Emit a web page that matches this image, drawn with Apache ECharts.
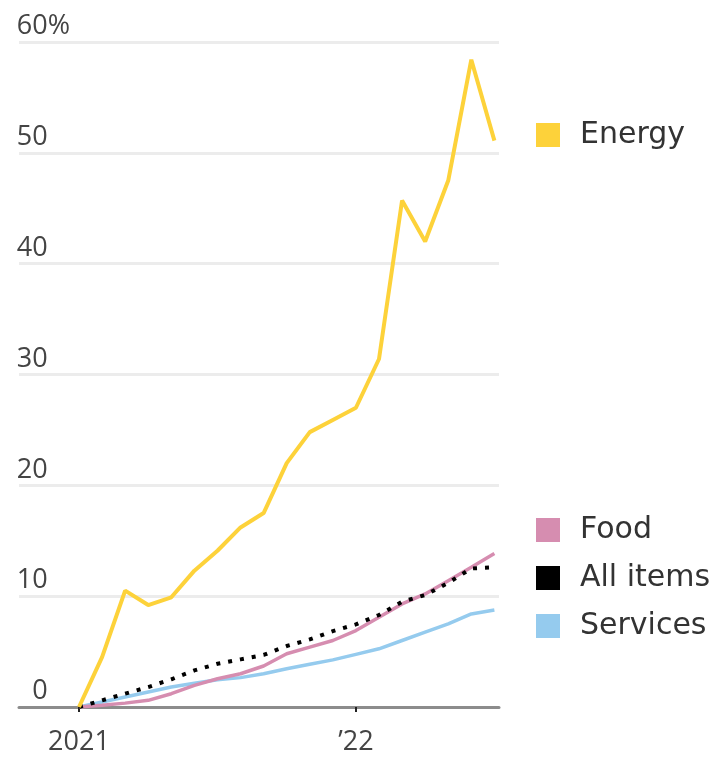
<!DOCTYPE html>
<html>
<head>
<meta charset="utf-8">
<script src="https://cdn.jsdelivr.net/npm/echarts@6/dist/echarts.min.js"></script>
<style>
  html, body { margin: 0; padding: 0; background: #fff; }
  #chart { width: 726px; height: 758px; }
</style>
</head>
<body>
<div id="chart"></div>
<script>
// Monthly cumulative price change since January 2021, percent
const months = ['2021-01','2021-02','2021-03','2021-04','2021-05','2021-06','2021-07','2021-08','2021-09','2021-10','2021-11','2021-12',
                '2022-01','2022-02','2022-03','2022-04','2022-05','2022-06','2022-07'];
const energy   = [0, 4.5, 10.5, 9.2, 9.9, 12.3, 14.1, 16.2, 17.5, 22.0, 24.8, 25.9, 27.0, 31.4, 45.7, 42.0, 47.5, 58.4, 51.1];
const food     = [0, 0.15, 0.35, 0.6, 1.2, 1.95, 2.55, 3.0, 3.7, 4.8, 5.4, 6.0, 6.9, 8.1, 9.3, 10.2, 11.4, 12.6, 13.85];
const allItems = [0, 0.6, 1.2, 1.8, 2.5, 3.3, 3.9, 4.3, 4.7, 5.5, 6.1, 6.85, 7.45, 8.3, 9.5, 10.1, 11.2, 12.5, 12.6];
const services = [0, 0.45, 0.9, 1.35, 1.8, 2.15, 2.45, 2.65, 3.0, 3.45, 3.85, 4.25, 4.75, 5.25, 6.0, 6.75, 7.5, 8.4, 8.75];

// x-axis tick labels, placed at month indices
const xTickPos = [0, 12];
const xTickLabels = ['2021', '\u201922'];

// y-axis ticks
const yTicks = [0, 10, 20, 30, 40, 50, 60];

const colors = { energy: '#fdd23a', food: '#d68db0', allItems: '#000000', services: '#95cbee' };

const toPairs = arr => arr.map((v, i) => [i, v]);

const chart = echarts.init(document.getElementById('chart'), null, { renderer: 'canvas' });

const FONT = '"Open Sans", "Noto Sans", sans-serif';
const LEGEND_FONT = '"DejaVu Sans", "Open Sans", sans-serif';

const legendText = { fontFamily: LEGEND_FONT, fontSize: 30, color: '#333', padding: [0, 0, 0, 15], lineHeight: 24 };

chart.setOption({
  animation: false,
  backgroundColor: '#ffffff',
  grid: { left: 19, right: 227, top: 42, bottom: 51, containLabel: false },
  xAxis: {
    type: 'value',
    min: -2.6,
    max: 18.2,
    splitLine: { show: false },
    axisLine: { show: true, lineStyle: { color: '#8c8c8c', width: 3 } },
    axisTick: { show: true, customValues: xTickPos, length: 5, lineStyle: { color: '#222', width: 2 } },
    axisLabel: {
      customValues: xTickPos,
      formatter: v => xTickLabels[xTickPos.indexOf(Math.round(v))] || '',
      fontFamily: FONT, fontSize: 27, color: '#444', margin: 22
    }
  },
  yAxis: {
    type: 'value',
    min: yTicks[0],
    max: yTicks[yTicks.length - 1],
    interval: 10,
    axisLine: { show: false },
    axisTick: { show: false },
    splitLine: { show: true, lineStyle: { color: '#ececec', width: 3 } },
    axisLabel: {
      margin: -51,
      align: 'right',
      verticalAlign: 'bottom',
      padding: [0, 0, 2, 0],
      formatter: v => v === yTicks[yTicks.length - 1] ? '{n|' + v + '%}' : '{n|' + v + '}{h|%}',
      rich: {
        n: { fontFamily: FONT, fontSize: 27, color: '#444' },
        h: { fontFamily: FONT, fontSize: 27, color: 'rgba(0,0,0,0)' }
      }
    }
  },
  legend: [
    {
      data: ['Energy'],
      left: 536, top: 120, orient: 'vertical', padding: 0,
      icon: 'rect', itemWidth: 24, itemHeight: 24, itemGap: 18,
      textStyle: legendText,
      selectedMode: false
    },
    {
      data: ['Food', 'All items', 'Services'],
      left: 536, top: 515, orient: 'vertical', padding: 0,
      icon: 'rect', itemWidth: 24, itemHeight: 24, itemGap: 18,
      textStyle: legendText,
      selectedMode: false
    }
  ],
  series: [
    {
      name: 'Services', type: 'line', data: toPairs(services),
      showSymbol: false, symbol: 'none',
      itemStyle: { color: colors.services },
      lineStyle: { color: colors.services, width: 3.5 }
    },
    {
      name: 'Food', type: 'line', data: toPairs(food),
      showSymbol: false, symbol: 'none',
      itemStyle: { color: colors.food },
      lineStyle: { color: colors.food, width: 3.5 }
    },
    {
      name: 'All items', type: 'line', data: toPairs(allItems),
      showSymbol: false, symbol: 'none',
      itemStyle: { color: colors.allItems },
      lineStyle: { color: colors.allItems, width: 4, type: [4, 8], cap: 'butt' }
    },
    {
      name: 'Energy', type: 'line', data: toPairs(energy),
      showSymbol: false, symbol: 'none',
      itemStyle: { color: colors.energy },
      lineStyle: { color: colors.energy, width: 4 }
    }
  ]
});
</script>
</body>
</html>
